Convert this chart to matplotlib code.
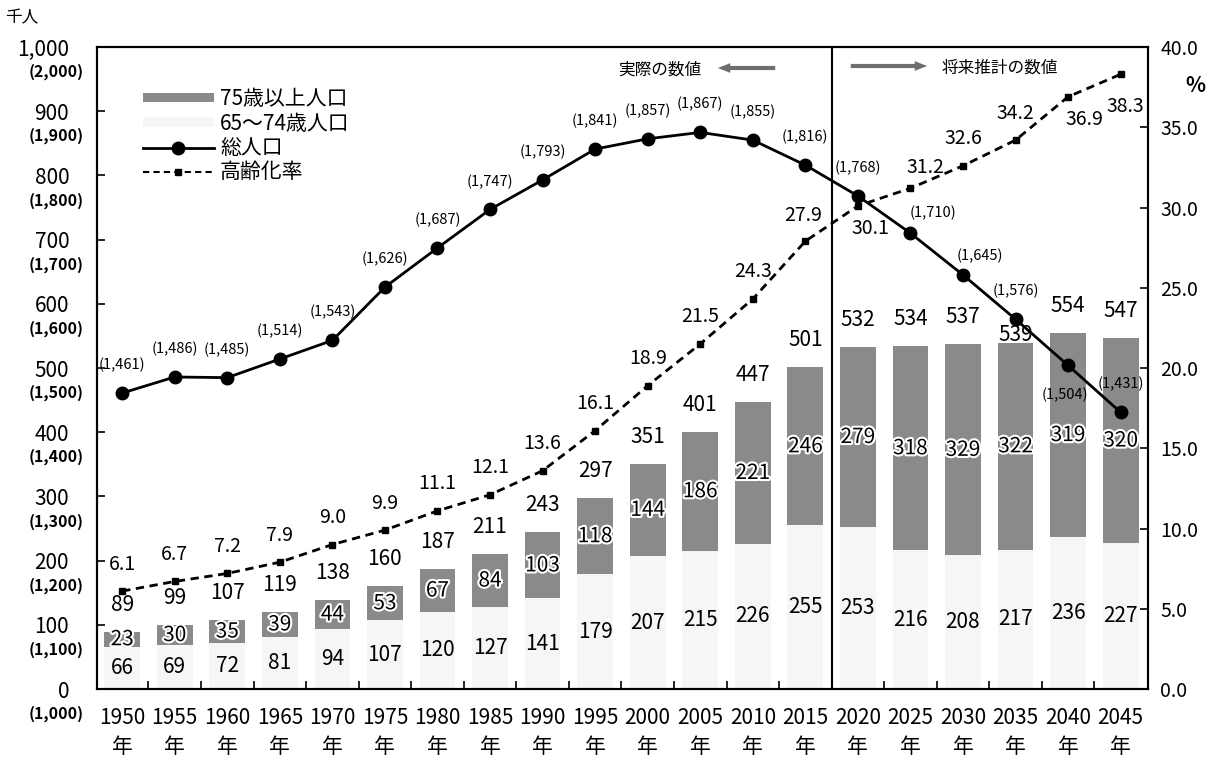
import matplotlib
matplotlib.use('Agg')
import matplotlib.pyplot as plt
import matplotlib.patheffects as pe
from matplotlib.lines import Line2D
from matplotlib.patches import Patch
import numpy as np

plt.rcParams['font.family'] = ['Noto Sans CJK JP', 'DejaVu Sans']

# data (thousand persons / %)
years = [1950, 1955, 1960, 1965, 1970, 1975, 1980, 1985, 1990, 1995,
         2000, 2005, 2010, 2015, 2020, 2025, 2030, 2035, 2040, 2045]
age65_74 = [66, 69, 72, 81, 94, 107, 120, 127, 141, 179,
            207, 215, 226, 255, 253, 216, 208, 217, 236, 227]
age75 = [23, 30, 35, 39, 44, 53, 67, 84, 103, 118,
         144, 186, 221, 246, 279, 318, 329, 322, 319, 320]
elderly_total = [89, 99, 107, 119, 138, 160, 187, 211, 243, 297,
                 351, 401, 447, 501, 532, 534, 537, 539, 554, 547]
total_pop = [1461, 1486, 1485, 1514, 1543, 1626, 1687, 1747, 1793, 1841,
             1857, 1867, 1855, 1816, 1768, 1710, 1645, 1576, 1504, 1431]
aging_rate = [6.1, 6.7, 7.2, 7.9, 9.0, 9.9, 11.1, 12.1, 13.6, 16.1,
              18.9, 21.5, 24.3, 27.9, 30.1, 31.2, 32.6, 34.2, 36.9, 38.3]

left_ticks = [0, 100, 200, 300, 400, 500, 600, 700, 800, 900, 1000]
left_labels = ['0', '100', '200', '300', '400', '500', '600', '700', '800', '900', '1,000']
pop_labels = ['(1,000)', '(1,100)', '(1,200)', '(1,300)', '(1,400)', '(1,500)',
              '(1,600)', '(1,700)', '(1,800)', '(1,900)', '(2,000)']
right_ticks = [0, 5, 10, 15, 20, 25, 30, 35, 40]

dark = '#8a8a8a'
light = '#f6f6f6'
px = 0.72  # pixels -> points

x = np.arange(len(years))
fig = plt.figure(figsize=(12.21, 7.62), dpi=100)
ax = fig.add_axes([0.0794, 0.0958, 0.8608, 0.8425])

ax.bar(x, age65_74, width=0.68, color=light, zorder=1)
ax.bar(x, age75, bottom=age65_74, width=0.68, color=dark, zorder=1)
ax.plot(x, np.array(total_pop) - 1000, color='k', lw=2, marker='o', ms=9, zorder=4)
ax.axvline(13.5, color='k', lw=1.5, zorder=3)

ax.set_xlim(-0.48, 19.52)
ax.set_ylim(0, 1000)

# x ticks: boundaries inward, year labels at centres
ax.set_xticks(np.arange(0.5, 19.5, 1))
ax.set_xticklabels([])
ax.tick_params(axis='x', which='major', direction='in', length=6, width=1.2)
ax.set_xticks(x, minor=True)
ax.set_xticklabels([f'{y}\n年' for y in years], minor=True, linespacing=1.4)
ax.tick_params(axis='x', which='minor', length=0, pad=13, labelsize=15)

ax.set_yticks(left_ticks)
ax.set_yticklabels(left_labels)
ax.tick_params(axis='y', direction='in', length=6, width=1.2, pad=20, labelsize=15)
for v, lab in zip(left_ticks, pop_labels):
    ax.annotate(lab, xy=(0, v), xycoords=('axes fraction', 'data'),
                xytext=(-13 * px, -25 * px), textcoords='offset points',
                ha='right', va='center', fontsize=11.5, fontweight='bold')

for s in ax.spines.values():
    s.set_linewidth(1.5)

# bar labels
halo = [pe.withStroke(linewidth=3, foreground='white')]
for i in x:
    ax.text(i, age65_74[i] / 2, str(age65_74[i]), ha='center', va='center', fontsize=15, zorder=5)
    ax.text(i, age65_74[i] + age75[i] / 2, str(age75[i]), ha='center', va='center',
            fontsize=15, zorder=5, path_effects=halo)
    off = 8 if years[i] == 2035 else 27
    ax.annotate(str(elderly_total[i]), xy=(i, age65_74[i] + age75[i]),
                xytext=(0, off * px), textcoords='offset points',
                ha='center', va='center', fontsize=15, zorder=5)

# total population labels
pop_off = {2025: (23, 20), 2030: (17, 19), 2040: (-3, -29)}
for i in x:
    dx, dy = pop_off.get(years[i], (0, 28))
    ax.annotate(f'({total_pop[i]:,})', xy=(i, total_pop[i] - 1000),
                xytext=(dx * px, dy * px), textcoords='offset points',
                ha='center', va='center', fontsize=10.5, zorder=6)

# aging rate on right axis
ax2 = ax.twinx()
ax2.plot(x, aging_rate, color='k', lw=2, ls=(0, (3, 2)), marker='s', ms=5, zorder=4)
ax2.set_ylim(0, 40)
ax2.set_yticks(right_ticks)
ax2.set_yticklabels([f'{v:.1f}' for v in right_ticks])
ax2.tick_params(axis='y', direction='in', length=6, width=1.2, pad=9, labelsize=14)
for s in ax2.spines.values():
    s.set_linewidth(1.5)

rate_off = {2015: (-2, 26), 2020: (12, -23), 2025: (15, 21), 2040: (16, -23), 2045: (5, -32)}
for i in x:
    dx, dy = rate_off.get(years[i], (0, 27))
    ax2.annotate(f'{aging_rate[i]:.1f}', xy=(i, aging_rate[i]),
                 xytext=(dx * px, dy * px), textcoords='offset points',
                 ha='center', va='center', fontsize=14, zorder=6)

# header texts and arrows
fig.text(22 / 1221, 1 - 18 / 762, '千人', ha='center', va='center', fontsize=12)
fig.text(1195 / 1221, 1 - 85 / 762, '%', ha='center', va='center', fontsize=15, fontweight='bold')
fig.text(660 / 1221, 1 - 70 / 762, '実際の数値', ha='center', va='center', fontsize=12)
fig.text(1000 / 1221, 1 - 68 / 762, '将来推計の数値', ha='center', va='center', fontsize=12)
arr = dict(arrowstyle='simple,head_width=0.7,head_length=0.9,tail_width=0.3',
           color='#6e6e6e', lw=0)
ax.annotate('', xy=(715, 762 - 68), xycoords='figure pixels',
            xytext=(778, 762 - 68), textcoords='figure pixels', arrowprops=arr)
ax.annotate('', xy=(930, 762 - 66), xycoords='figure pixels',
            xytext=(848, 762 - 66), textcoords='figure pixels', arrowprops=arr)

# legend
handles = [Patch(facecolor=dark, edgecolor='none'),
           Patch(facecolor=light, edgecolor='none'),
           Line2D([], [], color='k', lw=2, marker='o', ms=9),
           Line2D([], [], color='k', lw=1.5, ls=(0, (3, 2)), marker='s', ms=4.5)]
labels = ['75歳以上人口', '65～74歳人口', '総人口', '高齢化率']
fig.legend(handles, labels, loc='upper left', bbox_to_anchor=(143 / 1221, 1 - 88 / 762),
           frameon=False, fontsize=15, handlelength=3.4, handleheight=0.3,
           labelspacing=0.12, handletextpad=0.3, borderaxespad=0, borderpad=0)

fig.savefig('out.png', dpi=100)
